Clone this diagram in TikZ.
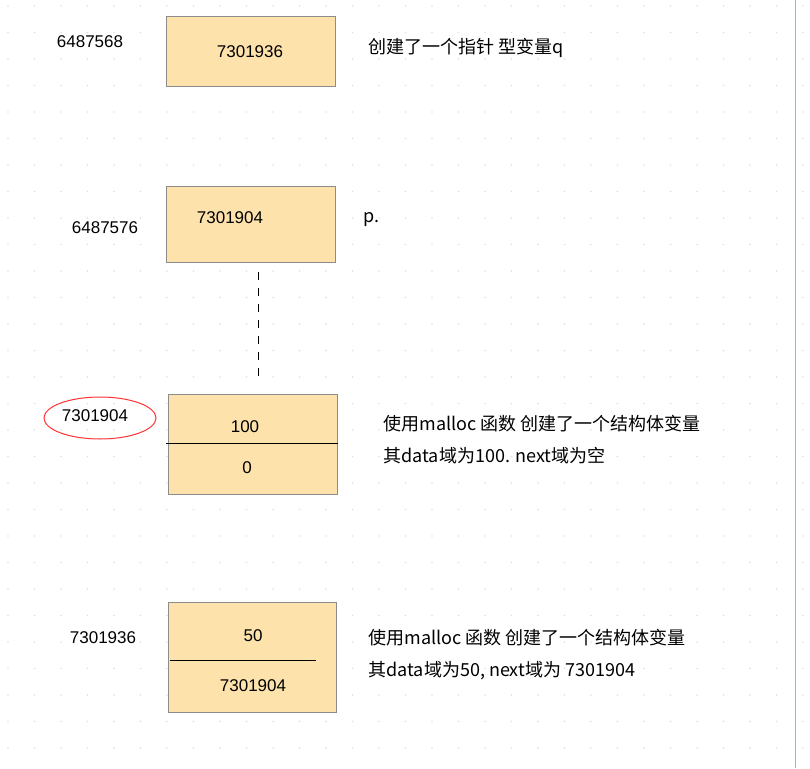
\documentclass[tikz,border=0pt]{standalone}
\usepackage{fontspec}
\setmainfont{Liberation Sans}
\newfontfamily\cjk{Noto Sans CJK SC}
\begin{document}
\begin{tikzpicture}[x=1pt,y=-1pt,
  cell/.style={draw=black!45,fill=yellow!30!orange!30,line width=0.7pt},
  val/.style={font=\fontsize{17}{20}\selectfont},
  note/.style={font=\cjk\fontsize{18}{32}\selectfont,anchor=west,align=left},
  addr/.style={font=\fontsize{17}{20}\selectfont}]
\fill[white] (0,0) rectangle (810,768);
\useasboundingbox (0,0) rectangle (810,768);
\foreach \i in {0,...,30}{\foreach \j in {0,...,29}{
  \fill[black!12] (8+26.5*\i,6+26.5*\j) circle (0.8);}}
\draw[black!30] (795,0) -- (795,768);
% box 1
\draw[cell] (166,16) rectangle (335,86);
\node[val] (v1) at (250,52) {7301936};
\node[addr] (a1) at (90,42) {6487568};
\node[note] (n1) at (365,48) {创建了一个指针 型变量q};
% box 2
\draw[cell] (166,186) rectangle (335,262);
\node[val] (v2) at (230,218) {7301904};
\node[addr] (a2) at (105,228) {6487576};
\node[note] (n2) at (360,220) {p.};
% dashed
\coordinate (d1) at (258,272);
\coordinate (d2) at (258,376);
\draw[dash pattern=on 8pt off 8pt,line width=0.9pt] (d1) -- (d2);
% box 3
\draw[cell] (168,394) rectangle (337,494);
\draw[line width=1pt] (166,443) -- (338,443);
\node[val] (v3a) at (245,427) {100};
\node[val] (v3b) at (247,468) {0};
\node[addr] (a3) at (95,416) {7301904};
\draw[red!80,line width=1pt] (100,418) ellipse (56 and 21);
\node[note] (n3) at (380,440) {使用malloc 函数 创建了一个结构体变量\\其data域为100. next域为空};
% box 4
\draw[cell] (168,602) rectangle (336,712);
\draw[line width=1pt] (170,660) -- (316,660);
\node[val] (v4a) at (253,636) {50};
\node[val] (v4b) at (253,686) {7301904};
\node[addr] (a4) at (103,638) {7301936};
\node[note] (n4) at (365,655) {使用malloc 函数 创建了一个结构体变量\\其data域为50, next域为 7301904};
\end{tikzpicture}
\end{document}
